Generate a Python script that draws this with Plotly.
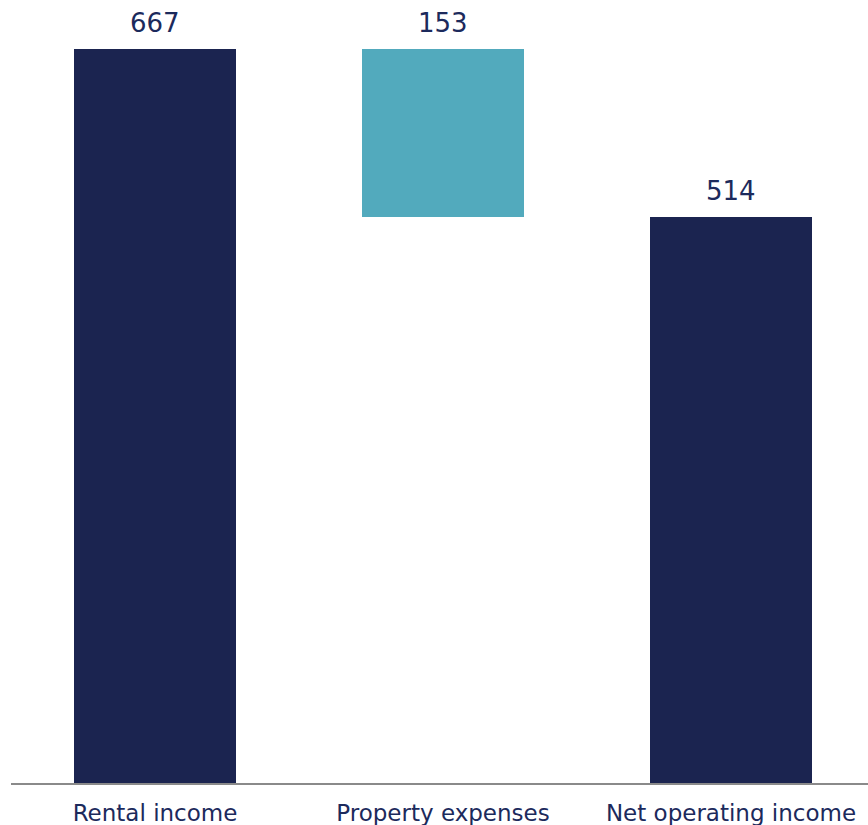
import plotly.graph_objects as go

categories = ["Rental income", "Property expenses", "Net operating income"]
values = [667, 153, 514]
bases = [0, 667 - 153, 0]
bar_colors = ["#1b2450", "#52aabd", "#1b2450"]
value_labels = ["667", "153", "514"]

navy_text = "#1c2a5c"
font_family = "DejaVu Sans"

fig = go.Figure(
    go.Bar(
        x=categories,
        y=values,
        base=bases,
        marker=dict(color=bar_colors, line=dict(width=0)),
        width=0.56,
        hoverinfo="skip",
    )
)

for cat, v, b, lab in zip(categories, values, bases, value_labels):
    fig.add_annotation(
        x=cat, y=v + b, text=lab, showarrow=False,
        yanchor="bottom", yshift=9,
        font=dict(size=26, color=navy_text, family=font_family),
    )

fig.update_layout(
    width=868, height=825,
    margin=dict(l=11, r=0, t=0, b=42),
    paper_bgcolor="white", plot_bgcolor="white",
    showlegend=False,
    bargap=0,
    font=dict(family=font_family, color=navy_text),
)
fig.update_xaxes(
    range=[-0.5, -0.5 + 857 / 288],
    showline=True, linecolor="#8a8a8a", linewidth=2,
    showgrid=False, zeroline=False, ticks="",
    ticklabelstandoff=8,
    tickfont=dict(size=23, color=navy_text, family=font_family),
)
fig.update_yaxes(
    range=[0, 711.6], visible=False, showgrid=False, zeroline=False,
)

fig.write_html("out.html")
